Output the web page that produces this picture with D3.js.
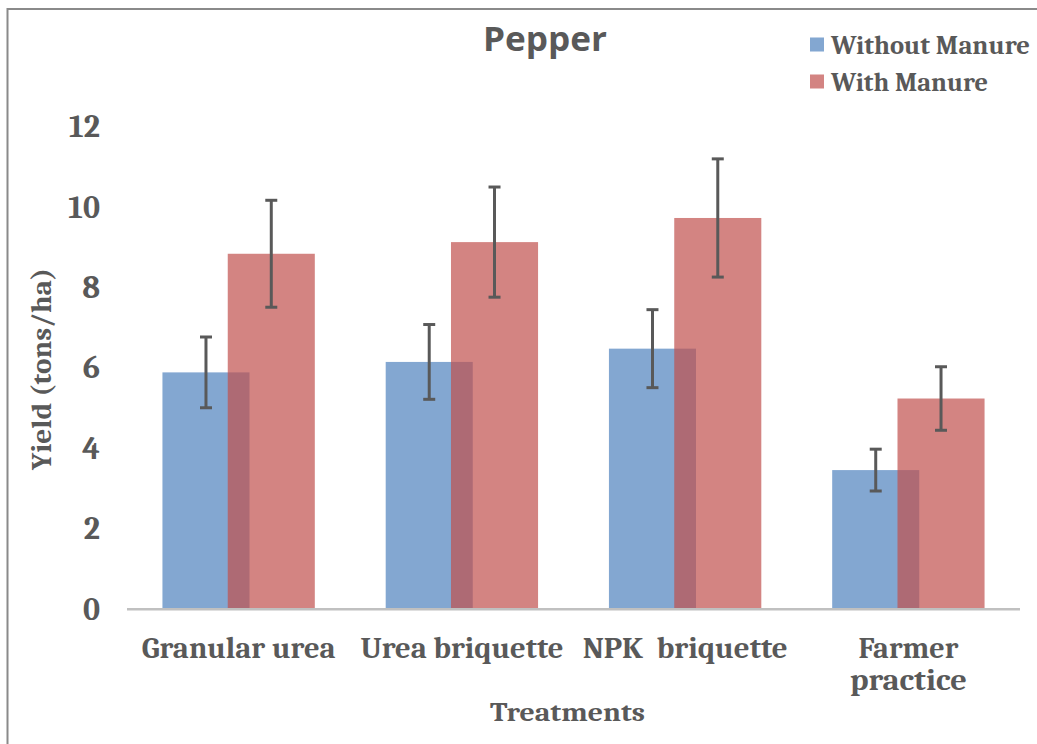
<!DOCTYPE html>
<html>
<head>
<meta charset="utf-8">
<script src="https://cdn.jsdelivr.net/npm/d3@7"></script>
<style>
  html, body { margin: 0; padding: 0; background: #fff; }
  svg { display: block; }
</style>
</head>
<body>
<svg id="chart" width="1037" height="744"></svg>
<script>
// ---- Data ----
const categories = ["Granular urea", "Urea briquette", "NPK  briquette", "Farmer practice"];
const seriesNames = ["Without Manure", "With Manure"];
const withoutManure = [5.86, 6.12, 6.45, 3.43];
const withoutManureErr = [0.88, 0.93, 0.97, 0.52];
const withManure = [8.81, 9.10, 9.70, 5.21];
const withManureErr = [1.33, 1.37, 1.47, 0.79];
const yTicks = [0, 2, 4, 6, 8, 10, 12];
const titleText = "Pepper";
const xTitle = "Treatments";
const yTitle = "Yield (tons/ha)";

// ---- Layout ----
const svg = d3.select("#chart");
const textColor = "#595959";
const colors = ["#4f81bd", "#c0504d"];
const serif = "Cambria, 'Liberation Serif', 'DejaVu Serif', serif";

// border
svg.append("rect")
  .attr("x", 7.5).attr("y", 9).attr("width", 1100).attr("height", 800)
  .attr("fill", "none").attr("stroke", "#8a8a8a").attr("stroke-width", 2);

const plot = { left: 127, right: 1020, top: 125.5, bottom: 608 };

const x = d3.scaleBand().domain(categories).range([plot.left, plot.right]).paddingInner(0).paddingOuter(0);
const y = d3.scaleLinear().domain([0, 12]).range([plot.bottom, plot.top]);

const bw = x.bandwidth();
const barW = bw * 0.39;
const overlap = 0.25;
const step = barW * (1 - overlap);
const offsets = [-step / 2, step / 2];

const series = [
  { name: seriesNames[0], values: withoutManure, errs: withoutManureErr, color: colors[0] },
  { name: seriesNames[1], values: withManure, errs: withManureErr, color: colors[1] }
];

// bars
series.forEach((s, si) => {
  svg.append("g").selectAll("rect")
    .data(categories.map((c, i) => ({ c, v: s.values[i] })))
    .join("rect")
    .attr("x", d => x(d.c) + bw / 2 + offsets[si] - barW / 2)
    .attr("y", d => y(d.v))
    .attr("width", barW)
    .attr("height", d => y(0) - y(d.v))
    .attr("fill", s.color)
    .attr("fill-opacity", 0.7);
});

// axis line
svg.append("line")
  .attr("x1", plot.left).attr("x2", plot.right)
  .attr("y1", y(0) + 1.3).attr("y2", y(0) + 1.3)
  .attr("stroke", "#c0c0c0").attr("stroke-width", 2.6);

// error bars
const capW = 12;
series.forEach((s, si) => {
  const g = svg.append("g").attr("stroke", "#595959").attr("stroke-width", 3);
  categories.forEach((c, i) => {
    const cx = x(c) + bw / 2 + offsets[si];
    const hi = y(s.values[i] + s.errs[i]);
    const lo = y(s.values[i] - s.errs[i]);
    g.append("line").attr("x1", cx).attr("x2", cx).attr("y1", hi).attr("y2", lo);
    g.append("line").attr("x1", cx - capW / 2).attr("x2", cx + capW / 2).attr("y1", hi).attr("y2", hi);
    g.append("line").attr("x1", cx - capW / 2).attr("x2", cx + capW / 2).attr("y1", lo).attr("y2", lo);
  });
});

// y axis tick labels
const yAxis = d3.axisLeft(y).tickValues(yTicks).tickSize(0).tickPadding(0).tickFormat(d3.format("d"));
const yg = svg.append("g").attr("transform", `translate(100,0)`).call(yAxis);
yg.select(".domain").remove();
yg.selectAll("text")
  .attr("fill", textColor)
  .attr("font-family", serif)
  .attr("font-weight", "bold")
  .attr("font-size", 32)
  .attr("dy", "0.35em");

// category labels
const catLines = {
  "Granular urea": [["Granular urea", 194]],
  "Urea briquette": [["Urea briquette", 203]],
  "NPK  briquette": [["NPK  briquette", 205]],
  "Farmer practice": [["Farmer", 100], ["practice", 117]]
};
const cg = svg.append("g");
categories.forEach(c => {
  catLines[c].forEach((ln, li) => {
    cg.append("text")
      .attr("x", x(c) + bw / 2)
      .attr("y", 658 + li * 32)
      .attr("text-anchor", "middle")
      .attr("fill", textColor)
      .attr("font-family", serif)
      .attr("font-weight", "bold")
      .attr("font-size", 30)
      .attr("textLength", ln[1])
      .attr("lengthAdjust", "spacingAndGlyphs")
      .style("white-space", "pre")
      .text(ln[0]);
  });
});

// axis titles
svg.append("text")
  .attr("x", 567.5).attr("y", 721)
  .attr("text-anchor", "middle")
  .attr("fill", textColor)
  .attr("font-family", serif)
  .attr("font-weight", "bold")
  .attr("font-size", 27)
  .attr("textLength", 155)
  .attr("lengthAdjust", "spacingAndGlyphs")
  .text(xTitle);

svg.append("text")
  .attr("transform", "translate(51,369) rotate(-90)")
  .attr("text-anchor", "middle")
  .attr("fill", textColor)
  .attr("font-family", serif)
  .attr("font-weight", "bold")
  .attr("font-size", 28)
  .attr("textLength", 202)
  .attr("lengthAdjust", "spacingAndGlyphs")
  .text(yTitle);

// title
svg.append("text")
  .attr("x", 545).attr("y", 51)
  .attr("text-anchor", "middle")
  .attr("fill", textColor)
  .attr("font-family", "'Open Sans', 'Noto Sans', sans-serif")
  .attr("font-weight", "bold")
  .attr("font-size", 34)
  .attr("textLength", 124)
  .attr("lengthAdjust", "spacingAndGlyphs")
  .text(titleText);

// legend
const legend = svg.append("g");
const legendLens = [199, 157];
series.forEach((s, i) => {
  const ly = 37.5 + i * 37;
  legend.append("rect")
    .attr("x", 810).attr("y", ly).attr("width", 14).attr("height", 14)
    .attr("fill", s.color).attr("fill-opacity", 0.7);
  legend.append("text")
    .attr("x", 831).attr("y", ly + 16)
    .attr("fill", textColor)
    .attr("font-family", serif)
    .attr("font-weight", "bold")
    .attr("font-size", 26)
    .attr("textLength", legendLens[i])
    .attr("lengthAdjust", "spacingAndGlyphs")
    .text(s.name);
});
</script>
</body>
</html>
